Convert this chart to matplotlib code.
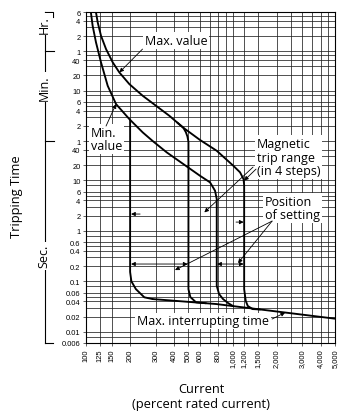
import matplotlib
matplotlib.use("Agg")
import matplotlib.pyplot as plt
from matplotlib.transforms import blended_transform_factory

plt.rcParams["font.family"] = "Liberation Sans"
LABEL_FONT = "Open Sans"

# current axis, percent of rated current
x_ticks = [100, 125, 150, 200, 300, 400, 500, 600, 800, 1000, 1200, 1500, 2000, 3000, 4000, 5000]
x_ticklabels = ["100", "125", "150", "200", "300", "400", "500", "600", "800",
                "1,000", "1,200", "1,500", "2,000", "3,000", "4,000", "5,000"]
x_minor = [700, 900, 2500, 3500, 4500]

# tripping time axis, in seconds (labels in hr / min / sec)
y_ticks = [21600, 14400, 7200, 3600, 2400, 1200, 600, 360, 240, 120, 60, 40, 20, 10,
           6, 4, 2, 1, 0.6, 0.4, 0.2, 0.1, 0.06, 0.04, 0.02, 0.01, 0.006]
y_ticklabels = ["6", "4", "2", "1", "40", "20", "10", "6", "4", "2", "1", "40", "20", "10",
                "6", "4", "2", "1", "0.6", "0.4", "0.2", "0.1", "0.06", "0.04", "0.02", "0.01", "0.006"]
y_minor = [18000, 10800, 3000, 1800, 480, 300, 180, 30, 8, 5, 3,
           0.8, 0.5, 0.3, 0.08, 0.05, 0.03, 0.008]

# min. value curve, magnetic drop near 780 %
min_cur = [108, 111, 117, 126.6, 140.6, 160.3, 197.5, 243.8, 285.3, 355.5, 461.6, 600,
           702, 759.5, 780, 780, 809, 861, 931, 1008]
min_time = [21200, 11510, 5400, 2170, 747, 324, 163.6, 89, 60, 35.8, 21, 12.3,
            9.12, 6.22, 4.26, 0.081, 0.056, 0.0445, 0.0372, 0.0323]

# max. value curve, magnetic drop at 1200 %
max_cur = [117, 120.2, 126.6, 137, 152.2, 168.8, 197.5, 243.8, 300.5, 370.4, 461.6, 600,
           780, 1013, 1125, 1188, 1200, 1200, 1230, 1270, 1370, 1541]
max_time = [21200, 13430, 7300, 3980, 2170, 1375, 807, 473, 300, 190, 110, 63,
            38.5, 19.4, 14.4, 10.6, 8.0, 0.07, 0.041, 0.0325, 0.0282, 0.0277]

# lowest setting (200 %) branching off the min. curve
low_cur = [200, 200, 204, 219, 250, 285]
low_time = [160, 0.153, 0.1, 0.07, 0.0482, 0.0445]

# 500 % setting branching off the max. curve
mid_cur = [420, 461.6, 480, 492, 500, 500, 515, 563, 659]
mid_time = [139, 110, 90, 74, 58, 0.070, 0.0489, 0.0384, 0.0368]

# max. interrupting time
int_cur = [285, 772, 5000]
int_time = [0.0445, 0.0355, 0.0182]

W, H = 339, 414
fig = plt.figure(figsize=(W / 100, H / 100), dpi=100)
ax = fig.add_axes([86 / W, 1 - 344 / H, 249 / W, 331 / H])
ax.set_xscale("log")
ax.set_yscale("log")
ax.set_xlim(100, 5000)
ax.set_ylim(0.006, 21600)

ax.set_xticks(x_ticks)
ax.set_xticklabels(x_ticklabels, rotation=90)
ax.set_xticks(x_minor, minor=True)
ax.set_xticklabels([], minor=True)
ax.set_yticks(y_ticks)
ax.set_yticklabels(y_ticklabels)
ax.set_yticks(y_minor, minor=True)
ax.set_yticklabels([], minor=True)
ax.tick_params(which="major", labelsize=5.4, length=2.5, width=0.5, pad=1.5, color="#222")
ax.tick_params(which="minor", length=0)
ax.grid(which="both", color="#222", lw=0.55)
ax.set_axisbelow(True)
for sp in ax.spines.values():
    sp.set_linewidth(0.8)

kw = dict(color="black", lw=1.35, solid_capstyle="round", solid_joinstyle="round", zorder=5)
ax.plot(min_cur, min_time, **kw)
ax.plot(max_cur, max_time, **kw)
ax.plot(low_cur, low_time, **kw)
ax.plot(mid_cur, mid_time, **kw)
ax.plot(int_cur, int_time, **kw)

box = dict(fc="white", ec="none", pad=1.2)
tkw = dict(family=LABEL_FONT, fontsize=9, bbox=box, zorder=3, linespacing=1.05)
ax.text(411, 5860, "Max. value", ha="center", va="center", **tkw)
ax.text(108, 66, "Min.\nvalue", ha="left", va="center", **tkw)
ax.text(1470, 28.9, "Magnetic\ntrip range\n(in 4 steps)", ha="left", va="center", **tkw)
ax.text(1667, 2.83, "Position\nof setting", ha="left", va="center", **tkw)
ax.text(629, 0.0164, "Max. interrupting time", ha="center", va="center", **tkw)

arr = dict(arrowstyle="-|>", lw=0.6, color="black", mutation_scale=6, shrinkA=0, shrinkB=0)
dbl = dict(arr, arrowstyle="<|-|>")
leaders = [
    ((243, 3980), (169, 1375)),
    ((137, 119), (160.3, 324)),
    ((1380, 18.3), (642, 2.32)),
    ((1446, 16.7), (1200, 9.9)),
    ((1861, 1.56), (405, 0.167)),
    ((1861, 1.56), (1090, 0.23)),
    ((1861, 0.0179), (2283, 0.0241)),
    ((234, 2.15), (203, 2.15)),
    ((1056, 1.49), (1190, 1.49)),
]
for start, end in leaders:
    ax.annotate("", xy=end, xytext=start, arrowprops=arr, zorder=6)
ax.annotate("", xy=(203, 0.22), xytext=(493, 0.22), arrowprops=dbl, zorder=6)
ax.annotate("", xy=(785, 0.22), xytext=(1190, 0.22), arrowprops=dbl, zorder=6)

# hr / min / sec bracket at the left
tr = blended_transform_factory(fig.transFigure, ax.transData)
bx = 45 / W
bk = dict(color="black", lw=0.8, transform=tr, clip_on=False)
fig.lines.append(plt.Line2D([bx, bx], [21600, 0.006], **bk))
fig.lines.append(plt.Line2D([bx, 53 / W, 53 / W], [21600, 21600, 17500], **bk))
for yv in [3600, 60]:
    fig.lines.append(plt.Line2D([bx, 54 / W], [yv, yv], **bk))
fig.lines.append(plt.Line2D([bx, 53 / W], [0.006, 0.006], **bk))
for lab, yv in [("Hr.", 12400), ("Min.", 700), ("Sec.", 0.32)]:
    fig.text(44 / W, yv, lab, transform=tr, rotation=90, ha="center", va="center",
             family=LABEL_FONT, fontsize=9, bbox=dict(fc="white", ec="none", pad=1.5))

fig.text(17 / W, 1 - 197 / H, "Tripping Time", rotation=90, ha="center", va="center",
         family=LABEL_FONT, fontsize=9.3)
fig.text(201 / W, 1 - 390 / H, "Current", ha="center", va="center",
         family=LABEL_FONT, fontsize=9.3)
fig.text(201 / W, 1 - 405 / H, "(percent rated current)", ha="center", va="center",
         family=LABEL_FONT, fontsize=9.3)

fig.savefig("out.png", dpi=100, facecolor="white")
